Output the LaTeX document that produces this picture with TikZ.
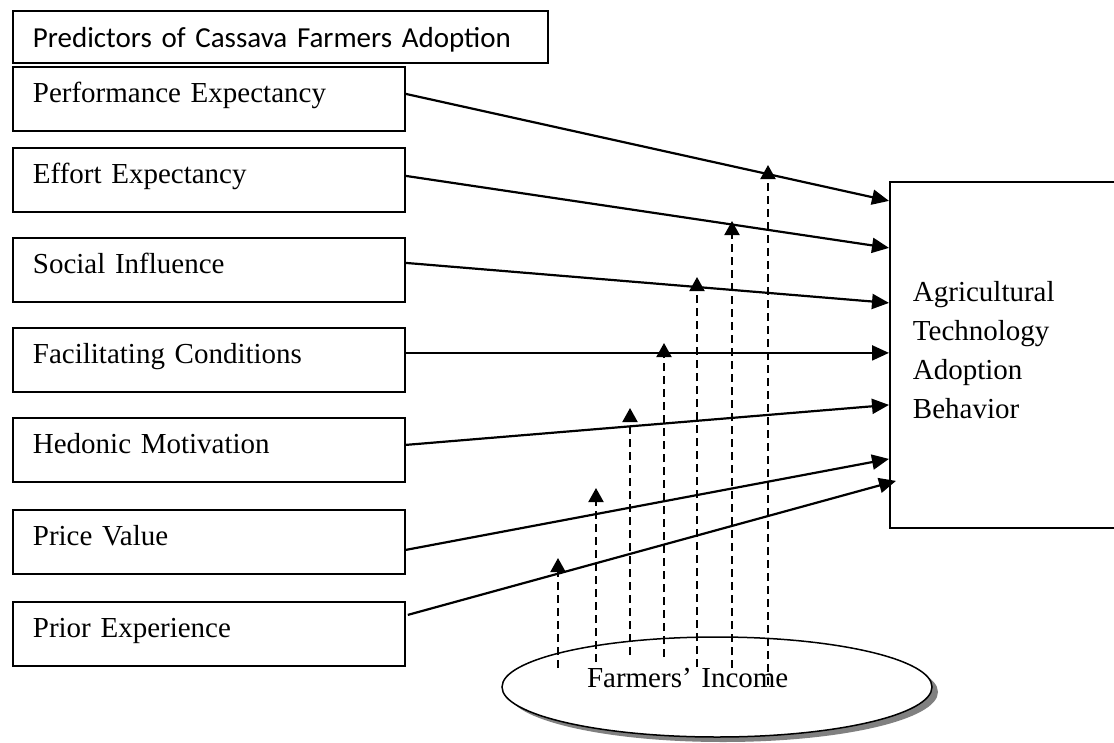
\documentclass[tikz,border=0pt]{standalone}
\usepackage{fontspec}
\setmainfont{Liberation Serif}
\newfontfamily\titlefont{Carlito}
\usetikzlibrary{arrows.meta,shapes.geometric,shadows}
\begin{document}
\begin{tikzpicture}[x=1pt,y=-1pt,
  predbox/.style={draw, line width=1.8pt, anchor=north west, minimum width=392pt,
    text width=352pt, align=left, inner xsep=20pt, inner ysep=0pt,
    text height=36pt, text depth=28pt, font=\fontsize{29pt}{35pt}\selectfont},
  titlebox/.style={draw, line width=1.8pt, anchor=north west, minimum width=535pt,
    text width=495pt, align=left, inner xsep=20pt, inner ysep=0pt,
    text height=37pt, text depth=15pt, font=\titlefont\fontsize{29pt}{35pt}\selectfont},
  outbox/.style={draw, line width=1.8pt, anchor=north west, minimum width=260pt,
    minimum height=346pt, text width=214pt, align=left, inner xsep=23pt,
    text depth=127pt, font=\fontsize{29pt}{39pt}\selectfont},
  incomeell/.style={ellipse, draw, line width=1.5pt, fill=white, minimum width=430pt,
    minimum height=100pt, text width=260pt, align=left, inner sep=0pt, text depth=18pt,
    font=\fontsize{29pt}{35pt}\selectfont,
    drop shadow={shadow xshift=6pt, shadow yshift=-5pt, fill=black!50, opacity=1}},
  conn/.style={line width=2.2pt, -{Triangle[width=15pt,length=17pt]}},
  modarr/.style={line width=2pt, dash pattern=on 8pt off 5pt, -{Triangle[width=15pt,length=14pt]}}
]
\useasboundingbox (0,0) rectangle (1114,742);
\clip (0,0) rectangle (1114,742);

\node[titlebox] (title) at (12,10) {Predictors of Cassava Farmers Adoption};
\node[predbox] (perf) at (12,66) {Performance Expectancy};
\node[predbox] (effort) at (12,147) {Effort Expectancy};
\node[predbox] (social) at (12,237) {Social Influence};
\node[predbox] (facil) at (12,327) {Facilitating Conditions};
\node[predbox] (hedon) at (12,417) {Hedonic Motivation};
\node[predbox] (price) at (12,509) {Price Value};
\node[predbox] (prior) at (12,601) {Prior Experience};

\node[outbox] (adopt) at (889,181) {Agricultural\\Technology\\Adoption\\Behavior};

\node[incomeell] (inc) at (717,687) {Farmers’ Income};

\draw[conn] ([yshift=5pt]perf.east) -- ([yshift=154pt]adopt.west);
\draw[conn] ([yshift=4pt]effort.east) -- ([yshift=107pt]adopt.west);
\draw[conn] ([yshift=7pt]social.east) -- ([yshift=52pt]adopt.west);
\draw[conn] ([yshift=7pt]facil.east) -- ([yshift=2pt]adopt.west);
\draw[conn] ([yshift=5pt]hedon.east) -- ([yshift=-50pt]adopt.west);
\draw[conn] ([yshift=-8pt]price.east) -- ([yshift=-104pt]adopt.west);
\draw[conn] ([xshift=2pt,yshift=19pt]prior.east) -- ([xshift=7pt,yshift=-126pt]adopt.west);

\coordinate (b1) at (558,668); \coordinate (a1) at (558,558);
\coordinate (b2) at (596,662); \coordinate (a2) at (596,488);
\coordinate (b3) at (630,655); \coordinate (a3) at (630,408);
\coordinate (b4) at (664,657); \coordinate (a4) at (664,343);
\coordinate (b5) at (697,667); \coordinate (a5) at (697,277);
\coordinate (b6) at (732,668); \coordinate (a6) at (732,221);
\coordinate (b7) at (768,685); \coordinate (a7) at (768,165);
\foreach \i in {1,...,7} {\draw[modarr] (b\i) -- (a\i);}
\end{tikzpicture}
\end{document}
